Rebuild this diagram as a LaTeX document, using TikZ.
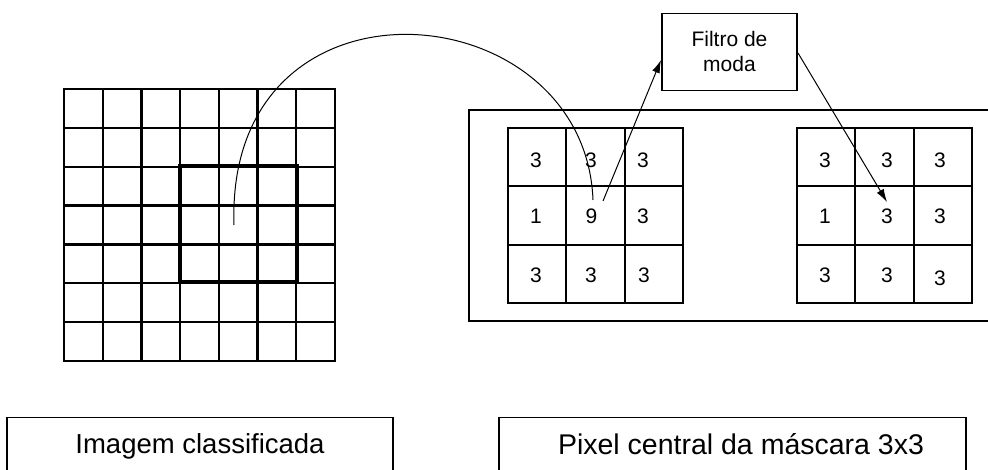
\documentclass[tikz,border=0pt]{standalone}
\usepackage{fontspec}
\setmainfont{Liberation Sans}
\usetikzlibrary{arrows.meta}
\begin{document}
\begin{tikzpicture}[x=1pt,y=-1pt,
  gridline/.style={line width=2.2pt,line cap=rect},
  maskbox/.style={draw,line width=4.5pt,minimum width=117pt,minimum height=116pt,inner sep=0pt},
  num/.style={font=\fontsize{21}{25}\selectfont,anchor=base,inner sep=0pt},
  captext/.style={anchor=base,inner sep=0pt},
  thinbox/.style={draw,line width=1.1pt,inner sep=0pt},
  link/.style={line width=1pt},
  arr/.style={link,-{Latex[length=13pt,width=8pt]}}
]
\useasboundingbox (0,0) rectangle (988,470);

% left classified image grid 7x7
\foreach \i in {0,...,7} {
  \draw[gridline] ({64+\i*38.714},89) -- ({64+\i*38.714},361);
  \draw[gridline] (64,{89+\i*38.857}) -- (335,{89+\i*38.857});
}
\node[maskbox] (mask) at (238.5,224) {};
\coordinate (cstart) at (234,225);

% right frame
\draw[line width=2.2pt] (992,110) -- (469,110) -- (469,321) -- (992,321);

% left 3x3 mask
\foreach \x in {508,566.33,624.67,683} \draw[gridline] (\x,128) -- (\x,303);
\foreach \y in {128,186.33,244.67,303} \draw[gridline] (508,\y) -- (683,\y);
% right 3x3 mask
\foreach \x in {797,855.33,913.67,972} \draw[gridline] (\x,128) -- (\x,303);
\foreach \y in {128,186.33,244.67,303} \draw[gridline] (797,\y) -- (972,\y);

% numbers left
\node[num] (l11) at (536,168) {3};
\node[num] (l12) at (591,168) {3};
\node[num] (l13) at (643,168) {3};
\node[num] (l21) at (536,224) {1};
\node[num] (nine) at (591.5,224) {9};
\node[num] (l23) at (643,224) {3};
\node[num] (l31) at (536,283) {3};
\node[num] (l32) at (591,283) {3};
\node[num] (l33) at (644,283) {3};
% numbers right
\node[num] (r11) at (825,168) {3};
\node[num] (r12) at (887,168) {3};
\node[num] (r13) at (940,168) {3};
\node[num] (r21) at (825,224) {1};
\node[num] (r22) at (887,224) {3};
\node[num] (r23) at (940,224) {3};
\node[num] (r31) at (825,283) {3};
\node[num] (r32) at (887,283) {3};
\node[num] (r33) at (940,286) {3};

% filter box
\node[thinbox,minimum width=135pt,minimum height=77pt,align=center,
  font=\fontsize{21}{24.4}\selectfont] (filtro) at (729.5,51.6) {Filtro de\\moda};

% connectors
\coordinate (cend) at (593,200);
\coordinate (a1s) at (603,201);
\coordinate (a1e) at (661,60);
\coordinate (a2s) at (798,53);
\coordinate (a2e) at (887,202);
\draw[link] (cstart) .. controls (225,-40) and (585,-10) .. (cend);
\draw[arr] (a1s) -- (a1e);
\draw[arr] (a2s) -- (a2e);

% bottom caption boxes
\node[thinbox,minimum width=386pt,minimum height=80pt,anchor=north] (imgbox) at (200,417) {};
\node[captext,font=\fontsize{27.5}{30}\selectfont] (imgtext) at (200,453) {Imagem classificada};
\node[thinbox,minimum width=467pt,minimum height=80pt,anchor=north] (pixbox) at (732.5,417) {};
\node[captext,font=\fontsize{28.5}{30}\selectfont] (pixtext) at (741,454) {Pixel central da máscara 3x3};
\end{tikzpicture}
\end{document}
